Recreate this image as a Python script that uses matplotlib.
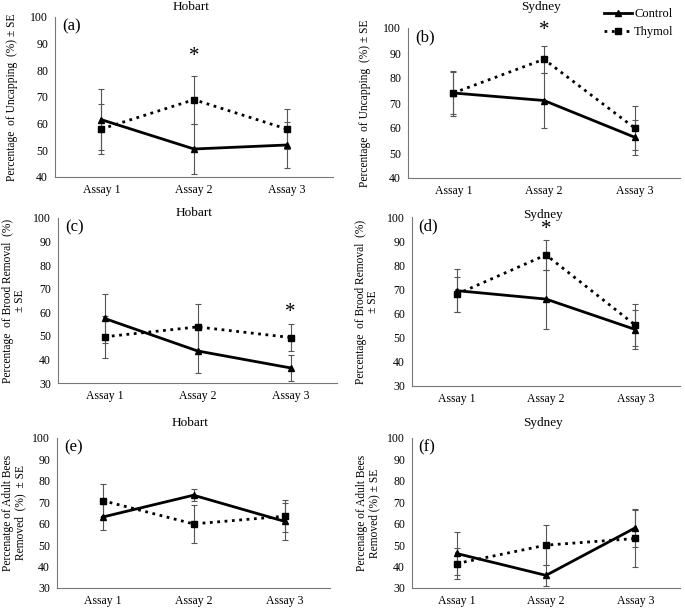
import matplotlib
matplotlib.use("Agg")
import matplotlib.pyplot as plt
from matplotlib.lines import Line2D
from matplotlib.transforms import blended_transform_factory

plt.rcParams['font.family'] = ['Liberation Serif', 'DejaVu Serif']

assays = ["Assay 1", "Assay 2", "Assay 3"]

# (a) Hobart uncapping
a_control = [61.5, 50.5, 52.0]
a_control_se = [11.5, 9.5, 8.5]
a_thymol = [58.0, 69.0, 58.0]
a_thymol_se = [9.5, 9.0, 7.5]

# (b) Sydney uncapping
b_control = [74.0, 71.0, 56.3]
b_control_se = [9.0, 11.0, 7.0]
b_thymol = [74.0, 87.5, 60.0]
b_thymol_se = [8.5, 5.3, 8.7]

# (c) Hobart brood removal
c_control = [57.4, 43.6, 36.4]
c_control_se = [10.5, 9.4, 5.6]
c_thymol = [49.6, 53.8, 49.3]
c_thymol_se = [9.0, 9.6, 5.7]

# (d) Sydney brood removal
d_control = [69.5, 66.0, 53.4]
d_control_se = [9.0, 12.2, 8.0]
d_thymol = [68.0, 84.3, 55.2]
d_thymol_se = [7.3, 6.3, 8.6]

# (e) Hobart adult bees removed
e_control = [63.1, 73.3, 61.1]
e_control_se = [6.0, 2.9, 8.5]
e_thymol = [70.8, 59.9, 63.5]
e_thymol_se = [7.7, 8.8, 7.4]

# (f) Sydney adult bees removed
f_control = [46.1, 35.9, 58.1]
f_control_se = [10.2, 5.0, 8.9]
f_thymol = [41.4, 50.0, 53.1]
f_thymol_se = [7.4, 9.4, 13.5]

panels = [
    # label, site, control, control_se, thymol, thymol_se, ylim, ylabel, star (idx, y),
    # rect px (l, r, top, bottom), title y px, ylabel centre x px
    ("(a)", "Hobart", a_control, a_control_se, a_thymol, a_thymol_se, (40, 100),
     "Percentage  of Uncapping  (%) ± SE", (1, 85), (55, 333, 17, 177), 7, 12),
    ("(b)", "Sydney", b_control, b_control_se, b_thymol, b_thymol_se, (40, 100),
     "Percentage  of Uncapping  (%) ± SE", (1, 99), (408, 680, 28, 178), 7, 365),
    ("(c)", "Hobart", c_control, c_control_se, c_thymol, c_thymol_se, (30, 100),
     "Percentage  of Brood Removal  (%)\n± SE", (2, 60), (58, 337, 218, 383), 213, 14),
    ("(d)", "Sydney", d_control, d_control_se, d_thymol, d_thymol_se, (30, 100),
     "Percentage  of Brood Removal  (%)\n± SE", (1, 95), (412, 680, 217, 386), 215, 367),
    ("(e)", "Hobart", e_control, e_control_se, e_thymol, e_thymol_se, (30, 100),
     "Percenatge of Adult Bees\nRemoved  (%)  ± SE", None, (57, 330, 438, 588), 423, 14),
    ("(f)", "Sydney", f_control, f_control_se, f_thymol, f_thymol_se, (30, 100),
     "Percenatge of Adult Bees\nRemoved (%) ± SE", None, (412, 680, 438, 588), 423, 368),
]

W, H = 685, 610


def draw_panel(fig, p):
    label, site, ctl, ctl_se, thy, thy_se, ylim, ylabel, star, rect, title_y, ylab_x = p
    l, r, t, b = rect
    ax = fig.add_axes([l / W, (H - b) / H, (r - l) / W, (b - t) / H])
    x = range(len(assays))
    ax.errorbar(x, ctl, yerr=ctl_se, color='black', lw=2, marker='^', ms=5,
                ecolor='#555555', elinewidth=0.8, capsize=2.5, capthick=0.8, zorder=3)
    ax.errorbar(x, thy, yerr=thy_se, color='black', lw=2, ls=':', marker='s', ms=5,
                ecolor='#555555', elinewidth=0.8, capsize=2.5, capthick=0.8, zorder=3)
    ax.set_xlim(-0.5, 2.5)
    ax.set_ylim(*ylim)
    ax.set_yticks(range(ylim[0], 101, 10))
    ax.set_xticks(list(x))
    ax.set_xticklabels(assays)
    ax.tick_params(length=0, labelsize=8.5, pad=5)
    for s in ('top', 'right'):
        ax.spines[s].set_visible(False)
    for s in ('left', 'bottom'):
        ax.spines[s].set_color('#777777')
        ax.spines[s].set_linewidth(0.8)
    ax.set_ylabel(ylabel, fontsize=8.3, linespacing=1.05, va='center')
    trans = blended_transform_factory(fig.transFigure, ax.transAxes)
    ax.yaxis.set_label_coords(ylab_x / W, 0.5, transform=trans)
    ax.text(0.025, 0.99, label, transform=ax.transAxes, fontsize=12, va='top', ha='left')
    fig.text((l + r) / 2 / W - 0.005, 1 - title_y / H, site, fontsize=9.5, ha='center', va='center')
    if star is not None:
        ax.text(star[0], star[1], "*", fontsize=15, ha='center', va='center')
    return ax


def main():
    fig = plt.figure(figsize=(W / 100, H / 100), dpi=100)
    for p in panels:
        draw_panel(fig, p)

    handles = [
        Line2D([], [], color='black', lw=2, marker='^', ms=5),
        Line2D([], [], color='black', lw=2, ls=':', marker='s', ms=5),
    ]
    fig.legend(handles, ["Control", "Thymol"], loc='upper right',
               bbox_to_anchor=(1.0, 1.005), frameon=False, fontsize=9,
               handlelength=2.2, handletextpad=0.2, labelspacing=0.5)
    fig.savefig("out.png", dpi=100)


if __name__ == "__main__":
    main()
